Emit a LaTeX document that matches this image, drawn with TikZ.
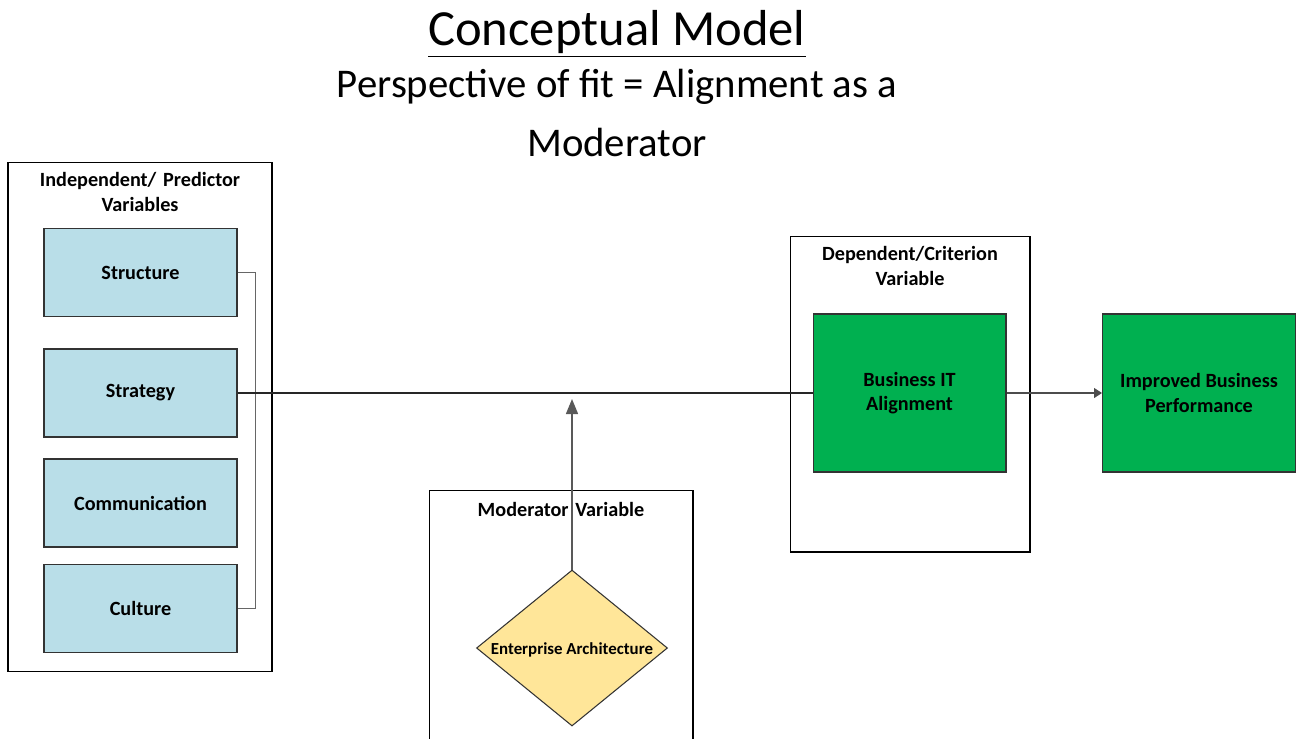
\documentclass[tikz,border=0pt]{standalone}
\usepackage{fontspec}
\setmainfont{Carlito}
\usetikzlibrary{shapes.geometric,arrows.meta}
\definecolor{boxBlue}{RGB}{185,222,232}
\definecolor{boxGreen}{RGB}{0,176,80}
\definecolor{boxYellow}{RGB}{255,230,153}
\begin{document}
\begin{tikzpicture}[x=0.02cm, y=-0.02cm,
    groupbox/.style={rectangle, draw=black, line width=0.6pt, fill=white},
    grouptitle/.style={font=\fontsize{11.5}{14}\selectfont\bfseries, align=center, text width=5cm},
    predictor/.style={rectangle, draw=black!80, line width=0.6pt, fill=boxBlue, minimum width=3.86cm, minimum height=1.76cm, text centered, font=\fontsize{11.5}{14}\selectfont\bfseries},
    outcome/.style={rectangle, draw=black!80, line width=0.6pt, fill=boxGreen, minimum width=3.86cm, minimum height=3.16cm, align=center, font=\fontsize{11.5}{14}\selectfont\bfseries},
    modshape/.style={diamond, draw=black!80, line width=0.6pt, fill=boxYellow, minimum width=3.82cm, minimum height=3.12cm, inner sep=0pt, label={[font=\fontsize{9.6}{12}\selectfont\bfseries, yshift=-0.04cm]center:#1}},
    arrow/.style={->, >={Triangle[length=0.3cm, width=0.24cm]}}
]
\useasboundingbox (0,0) rectangle (1297,738);

% Titles
\node (title) at (617,34) {\fontsize{28.8}{32}\selectfont\underline{Conceptual Model}};
\node (subtitle1) at (617,87) {\fontsize{23.2}{26}\selectfont Perspective of fit = Alignment as a};
\node (subtitle2) at (617,142) {\fontsize{23.2}{26}\selectfont Moderator};

% Group boxes
\node[groupbox, minimum width=5.28cm, minimum height=10.2cm] (indep) at (140,417) {};
\node[grouptitle] (indepTitle) at (140,192) {Independent/ Predictor\\Variables};
\node[groupbox, minimum width=5.28cm, minimum height=5.6cm] (modBox) at (561,630) {};
\node[grouptitle] (modTitle) at (561,509) {Moderator Variable};
\node[groupbox, minimum width=4.8cm, minimum height=6.32cm] (dep) at (910,394) {};
\node[grouptitle] (depTitle) at (910,266) {Dependent/Criterion\\Variable};

% Predictor variables
\node[predictor] (structure) at (140.5,272.5) {Structure};
\node[predictor] (strategy) at (140.5,393) {Strategy};
\node[predictor] (communication) at (140.5,503) {Communication};
\node[predictor] (culture) at (140.5,608.5) {Culture};

% Outcomes
\node[outcome] (bizIT) at (909.5,393) {Business IT\\Alignment};
\node[outcome] (perf) at (1199,393) {Improved Business\\Performance};

% Moderator
\node[modshape={Enterprise Architecture}] (entArch) at (572,648) {};
\coordinate (modTip) at (572,399);

% Connectors
\draw[black!60, line width=0.7pt] (structure.east) -- ++(18,0) |- (culture.east);
\draw[black!85, line width=1pt] (strategy.east) -- (bizIT.west);
\draw[arrow, black!65, line width=0.8pt] (entArch.north) -- (modTip);
\draw[black!70, line width=0.6pt, ->, >={Triangle[length=0.16cm, width=0.2cm]}] (bizIT.east) -- (perf.west);

\end{tikzpicture}
\end{document}
